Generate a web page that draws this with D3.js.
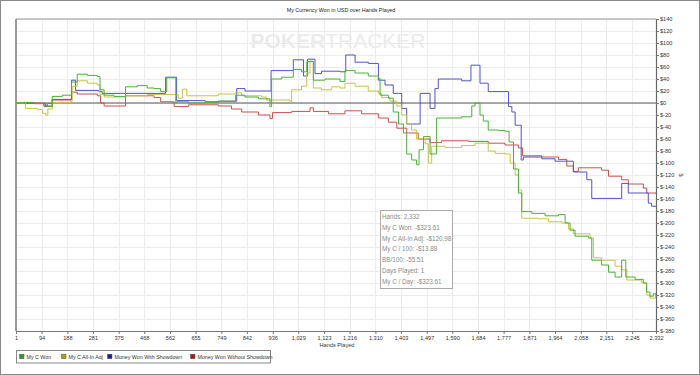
<!DOCTYPE html>
<html>
<head>
<meta charset="utf-8">
<script src="https://cdn.jsdelivr.net/npm/d3@7"></script>
<style>
  body { margin: 0; background: #fff; }
  svg { display: block; font-family: "Liberation Sans", Arial, sans-serif; }
</style>
</head>
<body>
<svg id="chart" width="700" height="375"></svg>
<script>
// series: [hand, dollars]
const myCWon = [
  [1,0],[30,1],[67,-1],[103,-5],[115,-6],[133,11],[170,13],[203,35],[224,48],[261,46],[297,44],
  [307,22],[322,13],[358,11],[400,27],[443,29],[479,25],[504,24],[528,19],[550,42],[583,0],
  [586,2],[629,0],[690,1],[738,3],[801,13],[835,10],[884,7],[926,-6],[932,40],[969,43],[1011,56],
  [1041,52],[1060,69],[1084,38],[1126,40],[1181,36],[1199,54],[1236,50],[1284,45],[1321,41],
  [1327,13],[1357,8],[1375,-15],[1394,-35],[1412,-50],[1424,-85],[1442,-95],[1460,-103],[1469,-78],
  [1485,-56],[1509,-85],[1533,-25],[1588,-25],[1624,-23],[1661,-5],[1673,0],[1691,-20],[1703,-30],
  [1721,-45],[1758,-46],[1782,-47],[1797,-65],[1813,-110],[1831,-150],[1843,-181],[1880,-184],
  [1928,-188],[1977,-186],[2001,-200],[2019,-212],[2037,-222],[2086,-225],[2098,-262],[2134,-270],
  [2159,-282],[2183,-290],[2207,-262],[2222,-290],[2256,-294],[2286,-300],[2298,-315],[2310,-322],
  [2322,-318],[2332,-323.61]
];
const myCAllIn = [
  [1,0],[30,1],[36,-9],[79,-11],[97,-17],[109,-20],[117,-10],[133,1],[200,3],[206,28],[224,37],
  [261,33],[297,30],[307,14],[322,10],[400,12],[479,14],[577,14],[592,8],[607,23],[623,12],[677,12],
  [738,15],[799,17],[823,12],[896,10],[914,5],[999,1],[1005,22],[1041,28],[1060,50],[1072,70],
  [1084,25],[1114,22],[1151,27],[1181,25],[1199,33],[1236,28],[1284,20],[1321,16],[1333,9],
  [1363,3],[1388,-5],[1406,-20],[1424,-35],[1442,-45],[1460,-60],[1491,-68],[1503,-100],[1515,-72],
  [1564,-74],[1624,-71],[1673,-67],[1721,-80],[1746,-84],[1782,-85],[1801,-100],[1819,-120],
  [1831,-145],[1843,-192],[1904,-193],[1940,-198],[1989,-200],[2013,-210],[2031,-218],[2092,-225],
  [2104,-258],[2134,-262],[2183,-272],[2207,-278],[2226,-295],[2280,-300],[2298,-320],[2310,-325],
  [2332,-318]
];
const wonWithShowdown = [
  [1,0],[67,-1],[109,-5],[133,6],[203,38],[218,21],[303,19],[315,16],[546,43],[586,4],[690,2],
  [738,3],[805,24],[835,20],[930,54],[1011,72],[1048,45],[1063,73],[1090,49],[1114,53],[1181,52],
  [1202,80],[1236,68],[1284,66],[1321,38],[1345,30],[1375,16],[1394,16],[1406,-9],[1424,-35],
  [1473,16],[1509,-9],[1527,24],[1539,40],[1624,37],[1658,63],[1691,33],[1721,19],[1795,-6],
  [1807,-15],[1819,-37],[1841,-95],[1849,-90],[1916,-93],[1964,-97],[2031,-115],[2080,-128],
  [2098,-159],[2207,-134],[2231,-150],[2304,-167],[2316,-172],[2332,-172]
];
const wonWithoutShowdown = [
  [1,0],[103,-6],[115,-1],[133,5],[203,18],[224,15],[297,12],[309,0],[322,-5],[400,12],[504,9],
  [528,2],[577,-6],[629,-3],[738,-5],[786,-10],[823,-15],[884,-20],[926,-26],[935,-16],[1005,-14],
  [1072,-8],[1084,-14],[1139,-18],[1199,-13],[1260,-18],[1321,-25],[1357,-32],[1388,-42],
  [1424,-50],[1466,-60],[1509,-66],[1551,-63],[1649,-64],[1721,-67],[1782,-70],[1831,-75],
  [1846,-88],[1916,-90],[1977,-94],[2007,-105],[2031,-114],[2049,-108],[2134,-112],[2159,-122],
  [2207,-128],[2231,-135],[2286,-142],[2298,-150],[2332,-152]
];

const seriesNames = ["My C Won", "My C All-In Adj", "Money Won With Showdown", "Money Won Without Showdown"];
const lineColors = ["#4caf3a", "#c9c24a", "#5252cc", "#c95050"];
const swatchColors = ["#2e9a2e", "#a8a020", "#1c1ca0", "#a01c1c"];
const xTicks = [1,94,188,281,375,468,562,655,749,842,936,1029,1123,1216,1310,1403,1497,1590,1684,1777,1871,1964,2058,2151,2245,2332];
const yTicks = d3.range(-380, 141, 20);
const statLines = ["Hands: 2,332", "My C Won: -$323.61", "My C All-In Adj: -$120.98", "My C / 100: -$13.88",
  "BB/100: -55.51", "Days Played: 1", "My C / Day: -$323.61"];

const svg = d3.select("#chart");
const margin = {top: 19, right: 44, bottom: 44, left: 16};
const width = 700, height = 375;

const x = d3.scaleLinear([1, 2332], [margin.left, width - margin.right]);
const y = d3.scaleLinear([-380, 140], [height - margin.bottom, margin.top]);

// outer frame
svg.append("rect").attr("x", 0.5).attr("y", 0.5).attr("width", width - 1).attr("height", height - 1)
  .attr("fill", "#fff").attr("stroke", "#8a8a8a");

svg.append("text").attr("x", 341).attr("y", 12).attr("text-anchor", "middle")
  .attr("font-size", 5.4).attr("fill", "#222").text("My Currency Won in USD over Hands Played");

// grid
const grid = svg.append("g").attr("stroke", "#ececec").attr("stroke-width", 1);
grid.selectAll(".gx").data(xTicks).join("line")
  .attr("x1", d => Math.round(x(d)) + 0.5).attr("x2", d => Math.round(x(d)) + 0.5)
  .attr("y1", y(140)).attr("y2", y(-380));
grid.selectAll(".gy").data(yTicks).join("line")
  .attr("x1", x(1)).attr("x2", x(2332))
  .attr("y1", d => Math.round(y(d)) + 0.5).attr("y2", d => Math.round(y(d)) + 0.5);

// watermark
const wm = svg.append("text").attr("x", 338).attr("y", 48).attr("text-anchor", "middle")
  .attr("font-size", 21).attr("fill", "#ebebeb");
wm.append("tspan").attr("font-weight", "bold").text("POKER");
wm.append("tspan").text("TRACKER");

// plot frame
svg.append("line").attr("x1", x(1)).attr("x2", x(2332)).attr("y1", y(140)).attr("y2", y(140))
  .attr("stroke", "#9a9a9a").attr("stroke-width", 1.2);
svg.append("line").attr("x1", x(1)).attr("x2", x(1)).attr("y1", y(140)).attr("y2", y(-380))
  .attr("stroke", "#9a9a9a").attr("stroke-width", 2);

// zero line
svg.append("line").attr("x1", x(1)).attr("x2", x(2332)).attr("y1", y(0)).attr("y2", y(0))
  .attr("stroke", "#8c8c8c").attr("stroke-width", 1.3);

// series
const line = d3.line().x(d => x(d[0])).y(d => y(d[1])).curve(d3.curveStepAfter);
const allSeries = [myCWon, myCAllIn, wonWithShowdown, wonWithoutShowdown];
svg.append("g").attr("fill", "none").attr("stroke-width", 1)
  .selectAll("path").data([wonWithoutShowdown, wonWithShowdown, myCAllIn, myCWon]).join("path")
  .attr("stroke", d => lineColors[allSeries.indexOf(d)])
  .attr("d", line);

// x axis
const xAxis = svg.append("g").attr("transform", `translate(0,${y(-380)})`)
  .call(d3.axisBottom(x).tickValues(xTicks).tickFormat(d3.format(",")).tickSize(3).tickSizeOuter(0));
xAxis.select(".domain").attr("stroke", "#777");
xAxis.selectAll(".tick line").attr("stroke", "#777");
xAxis.selectAll("text").attr("font-size", 5.6).attr("fill", "#333").attr("dy", "0.6em");
svg.append("text").attr("x", 337).attr("y", 347).attr("text-anchor", "middle")
  .attr("font-size", 5.6).attr("fill", "#333").text("Hands Played");

// y axis on the right
const yAxis = svg.append("g").attr("transform", `translate(${x(2332)},0)`)
  .call(d3.axisRight(y).tickValues(yTicks).tickFormat(d => "$" + d).tickSize(3).tickSizeOuter(0));
yAxis.select(".domain").attr("stroke", "#666").attr("stroke-width", 1.2);
yAxis.selectAll(".tick line").attr("stroke", "#777");
yAxis.selectAll("text").attr("font-size", 5.6).attr("fill", "#333").attr("x", 4);
svg.append("text").attr("transform", "translate(679,175) rotate(90)").attr("text-anchor", "middle")
  .attr("font-size", 5.6).attr("fill", "#333").text("$");

// stats box
const box = svg.append("g").attr("transform", "translate(380,210)");
box.append("rect").attr("x", 0.5).attr("y", 0.5).attr("width", 72).attr("height", 78)
  .attr("fill", "#fff").attr("stroke", "#aaa");
box.selectAll("text").data(statLines).join("text")
  .attr("x", 2).attr("y", (d, i) => 9 + i * 10.8)
  .attr("font-size", 6.3).attr("fill", "#8a8a8a").text(d => d);

// legend
const legend = svg.append("g").attr("transform", "translate(16,350)");
legend.append("rect").attr("x", 0.5).attr("y", 0.5).attr("width", 254).attr("height", 12.5)
  .attr("fill", "#fff").attr("stroke", "#888");
const legendX = [3, 45, 91, 174];
const item = legend.selectAll(".item").data(seriesNames).join("g")
  .attr("transform", (d, i) => `translate(${legendX[i]},0)`);
item.append("rect").attr("x", 0.5).attr("y", 4.2).attr("width", 4.5).attr("height", 4.5)
  .attr("fill", (d, i) => swatchColors[i]).attr("stroke", "#555").attr("stroke-width", 0.5);
item.append("text").attr("x", 7.5).attr("y", 8.7).attr("font-size", 5.3).attr("fill", "#333").text(d => d);
</script>
</body>
</html>
